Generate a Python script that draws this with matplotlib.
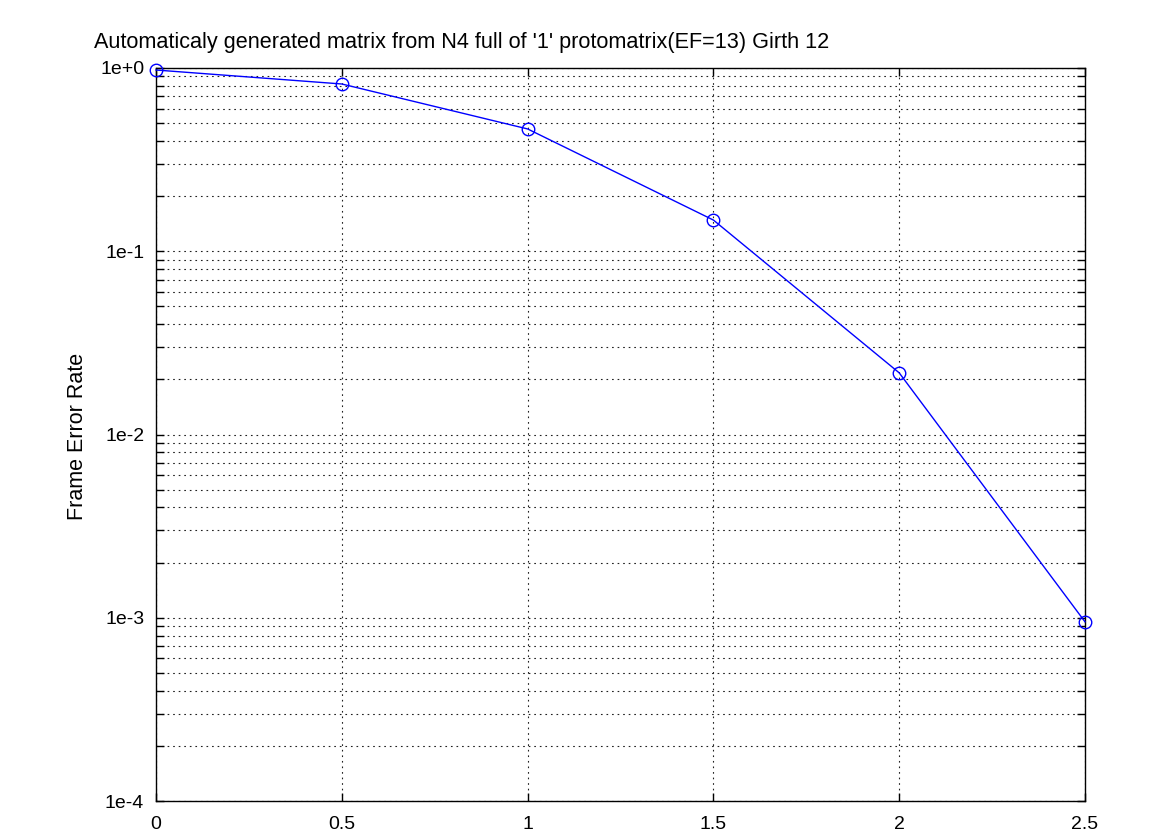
import matplotlib
matplotlib.use("Agg")
import matplotlib.pyplot as plt
from matplotlib.ticker import LogLocator, FixedLocator, NullLocator, NullFormatter

snr = [0, 0.5, 1, 1.5, 2, 2.5]
fer = [0.975, 0.818, 0.465, 0.148, 0.0217, 0.00095]
xticks = [0, 0.5, 1, 1.5, 2, 2.5]
xticklabels = ["0", "0.5", "1", "1.5", "2", "2.5"]
yticks = [1e-4, 1e-3, 1e-2, 1e-1, 1e0]
yticklabels = ["1e-4", "1e-3", "1e-2", "1e-1", "1e+0"]
title = "Automaticaly generated matrix from N4 full of '1' protomatrix(EF=13) Girth 12"
ylabel = "Frame Error Rate"

plt.rcParams['font.family'] = ['Liberation Sans', 'DejaVu Sans']

fig = plt.figure(figsize=(11.75, 8.35), dpi=100)
ax = fig.add_axes([156/1175, 34/835, 929/1175, 733/835])

ax.plot(snr, fer, color='#0000ff', linewidth=1.0, marker='o', markersize=9,
        markerfacecolor='none', markeredgecolor='#0000ff', markeredgewidth=1.0,
        clip_on=False, zorder=5)

ax.set_yscale('log')
ax.set_xlim(0, 2.5)
ax.set_ylim(1e-4, 1)
ax.xaxis.set_major_locator(FixedLocator(xticks))
ax.set_xticklabels(xticklabels)
ax.xaxis.set_minor_locator(NullLocator())
ax.yaxis.set_major_locator(FixedLocator(yticks))
ax.set_yticklabels(yticklabels)
ax.yaxis.set_minor_locator(LogLocator(base=10, subs=range(2, 10)))
ax.yaxis.set_minor_formatter(NullFormatter())

grid_style = dict(color='#202020', linestyle=(0, (1.5, 3.5)), linewidth=0.8)
ax.grid(True, which='major', axis='both', **grid_style)
ax.grid(True, which='minor', axis='y', **grid_style)

ax.tick_params(axis='both', which='both', direction='in', top=True, right=True,
               labelsize=14, colors='black', length=5.5, width=1.0)
ax.tick_params(axis='x', which='major', pad=11)
ax.tick_params(axis='y', which='major', pad=8.5)
for s in ax.spines.values():
    s.set_linewidth(1.0)
    s.set_color('black')

fig.text(94/1175, 1 - 47.7/835, title, fontsize=15.6, ha='left', va='baseline')
fig.text(78/1175, 1 - 436.5/835, ylabel, fontsize=15.5, rotation=90, ha='center', va='center')

fig.savefig("out.png", dpi=100)
